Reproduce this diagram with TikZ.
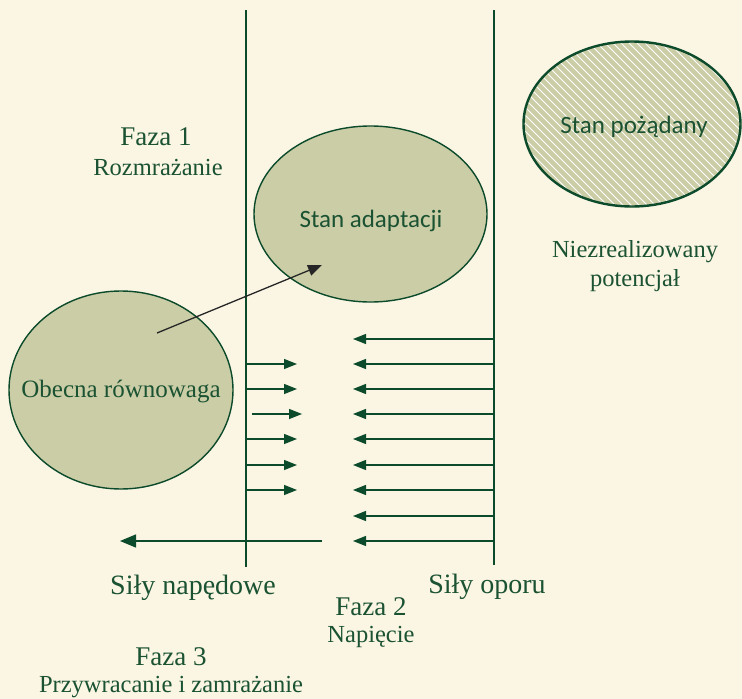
\documentclass[tikz,border=0pt]{standalone}
\usepackage{fontspec}
\setmainfont{Liberation Serif}
\newfontfamily\calib{Carlito}
\usetikzlibrary{arrows.meta,shapes.geometric}
\definecolor{bg}{HTML}{FBF6E4}
\definecolor{fillg}{HTML}{CBCDA6}
\definecolor{dg}{HTML}{0B4A2A}
\definecolor{tg}{HTML}{1A5232}
\tikzset{
  blob/.style={ellipse, draw=dg, line width=1.4pt, fill=fillg, text=tg, inner sep=0pt},
  wall/.style={draw=dg, line width=1.6pt},
  force/.style={draw=dg, line width=1.4pt, -{Triangle[length=13pt,width=10pt]}},
  lbl/.style={text=tg, inner sep=0pt, align=center, anchor=base},
  big/.style={font=\fontsize{27}{30}\selectfont},
  small/.style={font=\fontsize{24.5}{28}\selectfont},
  sans/.style={font=\calib\fontsize{25}{28}\selectfont},
}
\begin{document}
\begin{tikzpicture}[x=1pt,y=-1pt]
\fill[bg] (0,0) rectangle (742,699);
\useasboundingbox (0,0) rectangle (742,699);
% walls
\coordinate (w1t) at (246,10); \coordinate (w1b) at (246,567);
\coordinate (w2t) at (494,10); \coordinate (w2b) at (494,565);
\draw[wall] (w1t) -- (w1b);
\draw[wall] (w2t) -- (w2b);
% ellipses
\node[blob, minimum width=224pt, minimum height=198pt] (cur) at (121,390) {};
\node[lbl, font=\fontsize{25}{28}\selectfont] at (121,397) {Obecna równowaga};
\node[blob, minimum width=233pt, minimum height=176pt] (adp) at (370.5,214) {};
\node[lbl, sans] at (371,227) {Stan adaptacji};
\node[blob, minimum width=218pt, minimum height=166pt] (des) at (632,124) {};
\begin{scope}
\clip (632,124) ellipse [x radius=108pt, y radius=82pt];
\foreach \i in {-200,-192,...,260} {
  \draw[white, line width=0.9pt] (520+\i,30) -- (520+\i+200,230);
}
\end{scope}
\draw[dg, line width=1.4pt] (632,124) ellipse [x radius=108pt, y radius=82pt];
\node[lbl, sans] (desl) at (634,133) {Stan pożądany};
% transition arrow
\coordinate (a1) at (157,333);
\coordinate (a2) at (322,265);
\draw[black!85, line width=1.3pt, -{Triangle[length=14pt,width=11pt]}] (a1) -- (a2);
% driving forces
\foreach \y in {364,389,439,465,490} {
  \coordinate (ds\y) at (246,\y); \coordinate (de\y) at (297,\y);
  \draw[force] (ds\y) -- (de\y);
}
\coordinate (ds414) at (252,414); \coordinate (de414) at (302,414);
\draw[force] (ds414) -- (de414);
% resisting forces
\foreach \y in {339,364,389,414,439,465,490,516,541} {
  \coordinate (rs\y) at (494,\y); \coordinate (re\y) at (353,\y);
  \draw[force] (rs\y) -- (re\y);
}
% big arrow
\coordinate (bs) at (322,541); \coordinate (be) at (120,541);
\draw[draw=dg, line width=1.4pt, -{Triangle[length=16pt,width=13pt]}] (bs) -- (be);
% labels
\node[lbl, big] (f1) at (156,145) {Faza 1};
\node[lbl, small] (f1s) at (158,175) {Rozmrażanie};
\node[lbl, small] (np1) at (635,257) {Niezrealizowany};
\node[lbl, small] (np2) at (635,286) {potencjał};
\node[lbl, font=\fontsize{28}{30}\selectfont] (sn) at (193,594) {Siły napędowe};
\node[lbl, font=\fontsize{28}{30}\selectfont] (so) at (487,593) {Siły oporu};
\node[lbl, big] (f2) at (371,615) {Faza 2};
\node[lbl, small] (f2s) at (371,642) {Napięcie};
\node[lbl, big] (f3) at (171,665) {Faza 3};
\node[lbl, small] (f3s) at (171,692) {Przywracanie i zamrażanie};
\end{tikzpicture}
\end{document}
